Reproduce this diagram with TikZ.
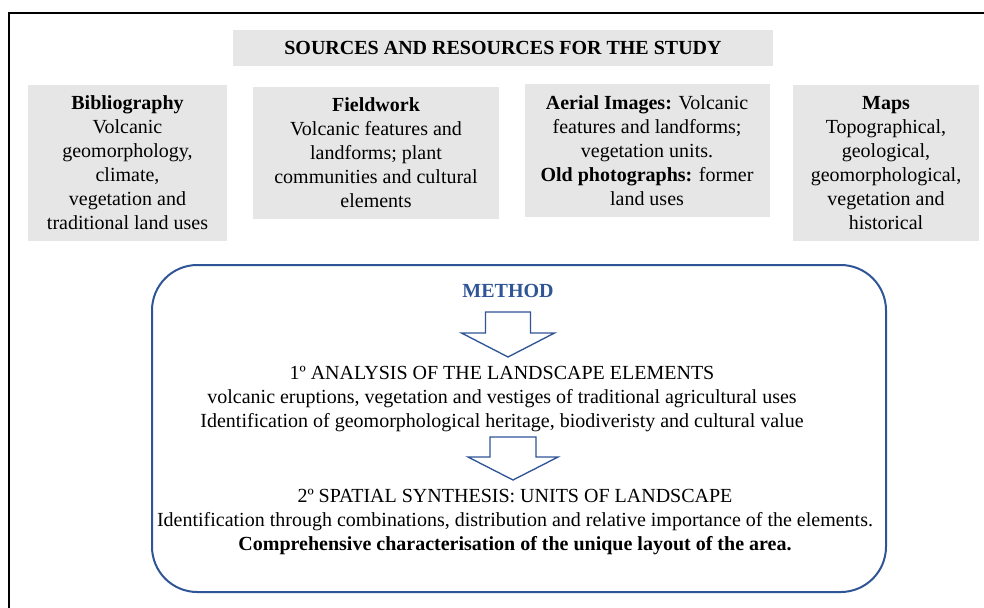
\documentclass[tikz,border=0pt]{standalone}
\usepackage{fontspec}
\setmainfont{Liberation Serif}
\usetikzlibrary{positioning}
\definecolor{methodblue}{RGB}{47,85,151}
\definecolor{boxgray}{RGB}{230,230,230}

\begin{document}
\begin{tikzpicture}[x=0.75pt,y=-0.75pt,
	srcbox/.style={fill=boxgray, align=center, inner sep=0pt, font=\fontsize{15}{18}\selectfont},
	mtext/.style={align=center, font=\fontsize{15}{18}\selectfont},
	blockarrow/.style={draw=methodblue, line width=1pt, fill=white}]
	\useasboundingbox (0,0) rectangle (984,607);
	\draw[line width=1.5pt] (9,615) -- (9,13) -- (995,13);
	% sources
	\node[srcbox, minimum width=405pt, minimum height=27pt, font=\bfseries\fontsize{15}{18}\selectfont] (title) at (503,48) {SOURCES AND RESOURCES FOR THE STUDY};
	\node[srcbox, minimum width=149.25pt, minimum height=117pt] (biblio) at (127.5,163) {\textbf{Bibliography}\\ Volcanic\\ geomorphology,\\ climate,\\ vegetation and\\ traditional land uses};
	\node[srcbox, minimum width=184.5pt, minimum height=99pt] (field) at (376,153) {\textbf{Fieldwork}\\ Volcanic features and\\ landforms; plant\\ communities and cultural\\ elements};
	\node[srcbox, minimum width=183.75pt, minimum height=99.75pt] (aerial) at (647,150.5) {\textbf{Aerial Images:} Volcanic\\ features and landforms;\\ vegetation units.\\ \textbf{Old photographs:} former\\ land uses};
	\node[srcbox, minimum width=139.5pt, minimum height=117pt] (maps) at (886,163) {\textbf{Maps}\\ Topographical,\\ geological,\\ geomorphological,\\ vegetation and\\ historical};
	% method
	\node[draw=methodblue, line width=1.5pt, rounded corners=34pt, minimum width=550.5pt, minimum height=245.25pt] (methodbox) at (519,428.5) {};
	\node[font=\bfseries\fontsize{15}{18}\selectfont, text=methodblue] (method) at (508,291) {METHOD};
	\node[mtext] (analysis) at (502,399) {1º ANALYSIS OF THE LANDSCAPE ELEMENTS\\ volcanic eruptions, vegetation and vestiges of traditional agricultural uses\\ Identification of geomorphological heritage, biodiveristy and cultural value};
	\node[mtext] (synthesis) at (515,521.5) {2º SPATIAL SYNTHESIS: UNITS OF LANDSCAPE\\ Identification through combinations, distribution and relative importance of the elements.\\ \textbf{Comprehensive characterisation of the unique layout of the area.}};
	% arrows
	\coordinate (a1) at (508,312);
	\coordinate (a2) at (513,437);
	\draw[blockarrow] (a1) ++(-22.5,0) -- ++(45,0) -- ++(0,21) -- ++(24,0) -- ++(-46.5,24) -- ++(-46.5,-24) -- ++(24,0) -- cycle;
	\draw[blockarrow] (a2) ++(-23,0) -- ++(46,0) -- ++(0,20) -- ++(22,0) -- ++(-45,23) -- ++(-45,-23) -- ++(22,0) -- cycle;
\end{tikzpicture}
\end{document}
